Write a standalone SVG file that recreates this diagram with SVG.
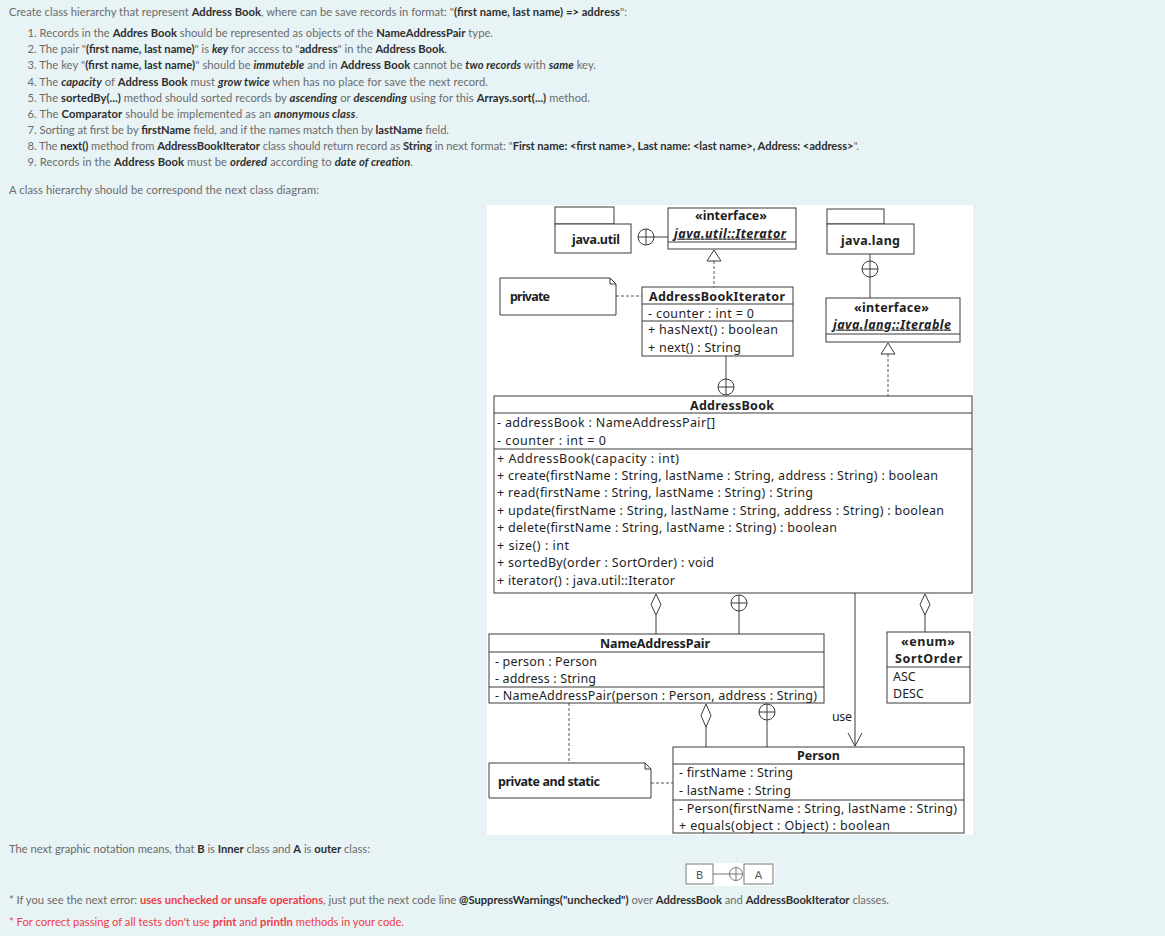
<svg xmlns="http://www.w3.org/2000/svg" width="1165" height="936" viewBox="0 0 1165 936">
<style>
.t{font-family:Lato,"Liberation Sans",sans-serif;font-size:11.2px;fill:#6b6b6b}
.b{font-weight:700;fill:#2e2e2e}
.bi{font-weight:700;font-style:italic;fill:#2e2e2e}
.r{fill:#ee3d44}
.box{fill:#fff;stroke:#3a3a3a;stroke-width:1}
.ln{fill:none;stroke:#3a3a3a;stroke-width:1}
.dash{fill:none;stroke:#555;stroke-width:1;stroke-dasharray:3,2}
.u{font-family:"Noto Sans","Open Sans",sans-serif;font-size:12.5px;fill:#1e1e1e}
.ub{font-weight:700}
.c{text-anchor:middle}
</style>
<defs>
<g id="cplus"><circle cx="0" cy="0" r="8" fill="#fff" stroke="#3a3a3a"/><path d="M-8,0H8M0,-8V8" stroke="#3a3a3a" fill="none"/></g>
</defs>
<rect x="0" y="0" width="1165" height="936" fill="#e7f3f5"/>

<g id="text-top">
<text class="t" x="9" y="16" textLength="618">Create class hierarchy that represent <tspan class="b">Address Book</tspan>, where can be save records in format: "<tspan class="b">(first name, last name) =&gt; address</tspan>":</text>
<text class="t" x="27.5" y="37" textLength="465.5">1. Records in the <tspan class="b">Addres Book</tspan> should be represented as objects of the <tspan class="b">NameAddressPair</tspan> type.</text>
<text class="t" x="27.5" y="53.2" textLength="419.5">2. The pair "<tspan class="b">(first name, last name)</tspan>" is <tspan class="bi">key</tspan> for access to "<tspan class="b">address</tspan>" in the <tspan class="b">Address Book</tspan>.</text>
<text class="t" x="27.5" y="69.3" textLength="568.5">3. The key "<tspan class="b">(first name, last name)</tspan>" should be <tspan class="bi">immuteble</tspan> and in <tspan class="b">Address Book</tspan> cannot be <tspan class="bi">two records</tspan> with <tspan class="bi">same</tspan> key.</text>
<text class="t" x="27.5" y="85.5" textLength="460.5">4. The <tspan class="bi">capacity</tspan> of <tspan class="b">Address Book</tspan> must <tspan class="bi">grow twice</tspan> when has no place for save the next record.</text>
<text class="t" x="27.5" y="101.6" textLength="562.5">5. The <tspan class="b">sortedBy(...)</tspan> method should sorted records by <tspan class="bi">ascending</tspan> or <tspan class="bi">descending</tspan> using for this <tspan class="b">Arrays.sort(...)</tspan> method.</text>
<text class="t" x="27.5" y="117.8" textLength="330.5">6. The <tspan class="b">Comparator</tspan> should be implemented as an <tspan class="bi">anonymous class</tspan>.</text>
<text class="t" x="27.5" y="133.9" textLength="421.5">7. Sorting at first be by <tspan class="b">firstName</tspan> field, and if the names match then by <tspan class="b">lastName</tspan> field.</text>
<text class="t" x="27.5" y="150.1" textLength="831.5">8. The <tspan class="b">next()</tspan> method from <tspan class="b">AddressBookIterator</tspan> class should return record as <tspan class="b">String</tspan> in next format: "<tspan class="b">First name: &lt;first name&gt;, Last name: &lt;last name&gt;, Address: &lt;address&gt;</tspan>".</text>
<text class="t" x="27.5" y="166.2" textLength="385.5">9. Records in the <tspan class="b">Address Book</tspan> must be <tspan class="bi">ordered</tspan> according to <tspan class="bi">date of creation</tspan>.</text>
<text class="t" x="9" y="194" textLength="310">A class hierarchy should be correspond the next class diagram:</text>
</g>

<rect x="487" y="205" width="486" height="630" fill="#fff"/>

<g id="connectors">
<line class="ln" x1="654" y1="237" x2="668" y2="237"/>
<use href="#cplus" x="646" y="237"/>
<line class="dash" x1="714" y1="261" x2="714" y2="287"/>
<path d="M714,250 L721,261 L707,261 Z" fill="#fff" stroke="#3a3a3a"/>
<line class="dash" x1="616" y1="296" x2="642" y2="296"/>
<line class="ln" x1="726" y1="356" x2="726" y2="379"/>
<use href="#cplus" x="726" y="387"/>
<line class="ln" x1="870" y1="254" x2="870" y2="298"/>
<use href="#cplus" x="870" y="269"/>
<line class="dash" x1="888" y1="354" x2="888" y2="396"/>
<path d="M888,343 L895,354 L881,354 Z" fill="#fff" stroke="#3a3a3a"/>
<line class="ln" x1="656" y1="615" x2="656" y2="634"/>
<path d="M656,594 L661,604.5 L656,615 L651,604.5 Z" fill="#fff" stroke="#3a3a3a"/>
<line class="ln" x1="739" y1="611" x2="739" y2="634"/>
<use href="#cplus" x="739" y="603"/>
<line class="ln" x1="925" y1="615" x2="925" y2="632"/>
<path d="M925,594 L930,604.5 L925,615 L920,604.5 Z" fill="#fff" stroke="#3a3a3a"/>
<line class="ln" x1="855" y1="593" x2="855" y2="746"/>
<path class="ln" d="M848,733 L855,746 L862,733"/>
<text class="u c" x="842" y="720.5" textLength="20">use</text>
<line class="dash" x1="569" y1="703" x2="569" y2="763"/>
<line class="ln" x1="706" y1="727" x2="706" y2="747"/>
<path d="M706,704 L711,715.5 L706,727 L701,715.5 Z" fill="#fff" stroke="#3a3a3a"/>
<line class="ln" x1="767" y1="720" x2="767" y2="747"/>
<use href="#cplus" x="767" y="712"/>
<line class="dash" x1="651" y1="783" x2="673" y2="783"/>
</g>

<g id="java-util">
<rect class="box" x="555" y="207" width="59" height="17"/>
<rect class="box" x="555" y="224" width="76" height="29"/>
<text class="u ub c" x="596" y="244" textLength="48">java.util</text>
</g>

<g id="iterator">
<rect class="box" x="668" y="208" width="128" height="41"/>
<line class="ln" x1="668" y1="242" x2="796" y2="242"/>
<text class="u ub c" x="731" y="219.5" textLength="72">«interface»</text>
<text class="u ub c" x="730" y="237.5" font-style="italic" text-decoration="underline" textLength="112">java.util::Iterator</text>
</g>

<g id="note-private">
<path class="box" d="M500,278 H610 L616,284 V315 H500 Z"/>
<path class="ln" d="M610,278 V284 H616"/>
<text class="u ub" x="510" y="300.5" textLength="40">private</text>
</g>

<g id="address-book-iterator">
<rect class="box" x="642" y="287" width="151" height="69"/>
<line class="ln" x1="642" y1="304" x2="793" y2="304"/>
<line class="ln" x1="642" y1="321" x2="793" y2="321"/>
<text class="u ub c" x="717" y="300.5" textLength="136">AddressBookIterator</text>
<text class="u" x="648" y="317.5" textLength="106">- counter : int = 0</text>
<text class="u" x="648" y="333.5" textLength="130">+ hasNext() : boolean</text>
<text class="u" x="648" y="351.5" textLength="93">+ next() : String</text>
</g>

<g id="java-lang">
<rect class="box" x="827" y="209" width="57" height="15"/>
<rect class="box" x="827" y="224" width="87" height="30"/>
<text class="u ub c" x="870.5" y="245" textLength="59">java.lang</text>
</g>

<g id="iterable">
<rect class="box" x="826" y="298" width="134" height="44"/>
<line class="ln" x1="826" y1="334" x2="960" y2="334"/>
<text class="u ub c" x="891.5" y="311.5" textLength="75">«interface»</text>
<text class="u ub c" x="892" y="328.5" font-style="italic" text-decoration="underline" textLength="118">java.lang::Iterable</text>
</g>

<g id="address-book">
<rect class="box" x="494" y="396" width="478" height="197"/>
<line class="ln" x1="494" y1="413" x2="972" y2="413"/>
<line class="ln" x1="494" y1="449" x2="972" y2="449"/>
<text class="u ub c" x="732" y="409.5" textLength="84">AddressBook</text>
<text class="u" x="497" y="427" textLength="218">- addressBook : NameAddressPair[]</text>
<text class="u" x="497" y="444.5" textLength="109">- counter : int = 0</text>
<text class="u" x="497" y="463" textLength="182">+ AddressBook(capacity : int)</text>
<text class="u" x="497" y="479.5" textLength="441">+ create(firstName : String, lastName : String, address : String) : boolean</text>
<text class="u" x="497" y="497" textLength="316">+ read(firstName : String, lastName : String) : String</text>
<text class="u" x="497" y="514.5" textLength="447">+ update(firstName : String, lastName : String, address : String) : boolean</text>
<text class="u" x="497" y="532" textLength="340">+ delete(firstName : String, lastName : String) : boolean</text>
<text class="u" x="497" y="549.5" textLength="72">+ size() : int</text>
<text class="u" x="497" y="567" textLength="217">+ sortedBy(order : SortOrder) : void</text>
<text class="u" x="497" y="584.5" textLength="178">+ iterator() : java.util::Iterator</text>
</g>

<g id="name-address-pair">
<rect class="box" x="489" y="634" width="335" height="69"/>
<line class="ln" x1="489" y1="652" x2="824" y2="652"/>
<line class="ln" x1="489" y1="687" x2="824" y2="687"/>
<text class="u ub c" x="655" y="647.5" textLength="110">NameAddressPair</text>
<text class="u" x="495" y="665.5" textLength="102">- person : Person</text>
<text class="u" x="495" y="682.5" textLength="101">- address : String</text>
<text class="u" x="495" y="700" textLength="322">- NameAddressPair(person : Person, address : String)</text>
</g>

<g id="sort-order">
<rect class="box" x="887" y="632" width="83" height="71"/>
<line class="ln" x1="887" y1="667" x2="970" y2="667"/>
<text class="u ub c" x="928" y="646" textLength="54">«enum»</text>
<text class="u ub c" x="928.5" y="662.5" textLength="67">SortOrder</text>
<text class="u" x="893" y="680.5">ASC</text>
<text class="u" x="893" y="697.5">DESC</text>
</g>

<g id="note-private-static">
<path class="box" d="M489,763 H645 L651,769 V798 H489 Z"/>
<path class="ln" d="M645,763 V769 H651"/>
<text class="u ub" x="498" y="785.5" textLength="102">private and static</text>
</g>

<g id="person">
<rect class="box" x="673" y="747" width="291" height="86"/>
<line class="ln" x1="673" y1="764" x2="964" y2="764"/>
<line class="ln" x1="673" y1="800" x2="964" y2="800"/>
<text class="u ub c" x="818.5" y="759.5" textLength="43">Person</text>
<text class="u" x="679" y="776.5" textLength="114">- firstName : String</text>
<text class="u" x="679" y="794.5" textLength="112">- lastName : String</text>
<text class="u" x="679" y="812.5" textLength="278">- Person(firstName : String, lastName : String)</text>
<text class="u" x="679" y="829.5" textLength="211">+ equals(object : Object) : boolean</text>
</g>

<g id="text-bottom">
<text class="t" x="9" y="852.5" textLength="361">The next graphic notation means, that <tspan class="b">B</tspan> is <tspan class="b">Inner</tspan> class and <tspan class="b">A</tspan> is <tspan class="b">outer</tspan> class:</text>
<text class="t" x="9" y="904" textLength="880">* If you see the next error: <tspan class="b r">uses unchecked or unsafe operations</tspan>, just put the next code line <tspan class="b">@SuppressWarnings("unchecked")</tspan> over <tspan class="b">AddressBook</tspan> and <tspan class="b">AddressBookIterator</tspan> classes.</text>
<text class="t r" x="9" y="925.5" textLength="395">* For correct passing of all tests don't use <tspan class="b r">print</tspan> and <tspan class="b r">println</tspan> methods in your code.</text>
</g>

<g id="notation">
<rect x="685" y="863" width="90" height="23" fill="#fff"/>
<rect x="686" y="864" width="27" height="20" fill="#fff" stroke="#777"/>
<rect x="744" y="864" width="29" height="20" fill="#fff" stroke="#777"/>
<line x1="713" y1="874" x2="729.5" y2="874" stroke="#777"/>
<circle cx="736" cy="874" r="6.5" fill="#fff" stroke="#777"/>
<path d="M729.5,874H742.5M736,867.5V880.5" stroke="#777"/>
<text x="699.5" y="878.5" text-anchor="middle" font-family="Lato,'Liberation Sans',sans-serif" font-size="11px" fill="#555">B</text>
<text x="758.5" y="878.5" text-anchor="middle" font-family="Lato,'Liberation Sans',sans-serif" font-size="11px" fill="#555">A</text>
</g>
</svg>
